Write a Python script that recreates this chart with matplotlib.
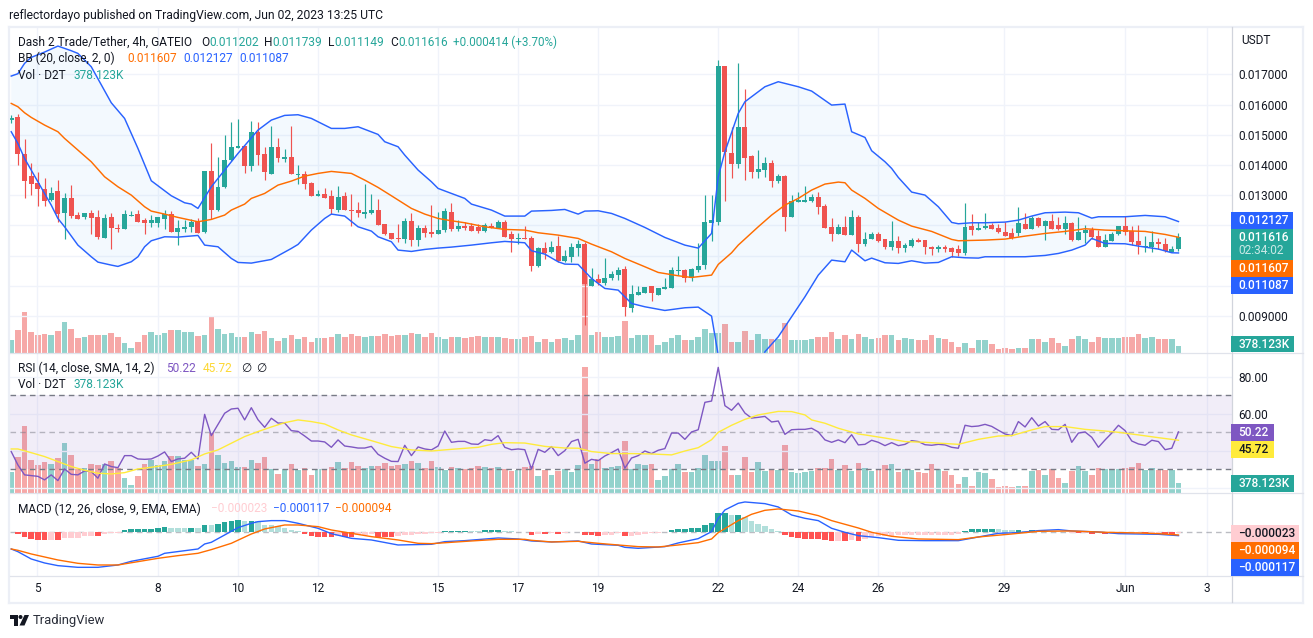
import numpy as np
import matplotlib
matplotlib.use("Agg")
import matplotlib.pyplot as plt
from matplotlib.patches import Rectangle, Polygon, Circle

W, H = 1313, 638

# candles, in millionths of a USDT
opens = [15487,15576,14361,13644,13401,13202,12838,13136,12407,12904,12330,12275,12407,12275,11579,12275,11910,11877,12319,12374,
         12175,12076,12076,12208,12374,11778,11888,11943,12142,11778,13798,12507,13268,14163,14560,14626,13964,15090,14361,13699,
         14593,14196,14262,13677,13699,13401,12970,13036,12970,12507,12970,12507,12507,12374,12407,12507,12043,11745,11579,11546,
         12142,11513,11910,11778,11711,11844,12440,11877,11976,11976,11943,11811,11976,11910,12109,11711,11546,11579,11579,10652,
         11248,11116,11314,10817,10950,11248,11380,9989,10221,10089,10254,10354,10553,9261,9691,9757,9989,9691,9890,9923,
         10486,10520,10254,10520,10685,12076,12109,17276,14395,14030,15256,14295,13765,13832,14063,13467,13633,12275,12771,12771,
         12805,12937,12639,11943,11711,11943,11678,12275,11380,11546,11711,11546,11281,11480,11248,11314,11513,11513,11281,11215,
         11281,11248,11215,11082,11976,11844,11910,12010,11910,11778,11745,11745,12043,11877,12241,11976,12142,12010,11877,12076,
         11513,11745,11844,11645,11281,11480,11711,11976,11811,11480,11281,11281,11447,11380,11116,11202]
highs = [15653,15675,14847,14052,13776,13555,13279,13500,13059,13334,12451,12407,12507,12495,12374,12407,12043,12507,12473,12507,
         12230,12341,12275,12507,12473,12175,12175,12208,12230,13798,14715,14262,14990,15421,15520,14626,15454,15421,14604,15289,
         14891,14527,15289,13997,13798,13434,13169,13235,13169,13301,13103,13036,12771,13367,13036,12871,12043,11745,12043,12241,
         12407,12010,12010,12672,12440,12562,12738,12175,12120,12065,12043,12076,12076,12175,12175,11811,11745,11976,11645,11281,
         11447,11480,11645,11182,11413,11513,11447,10586,10387,10917,10486,10619,10652,10023,9989,9956,9989,9923,10254,10619,
         10983,10553,10586,11413,13003,13003,17475,17276,15256,17375,16514,14328,14494,14262,14163,13699,13666,13003,13103,13301,
         13036,13103,12705,12241,12043,12308,12507,12341,11778,11778,11778,11546,12142,11645,11413,11579,11579,11513,11314,11347,
         11347,11281,11347,12738,12374,12109,12407,12076,12043,12109,11910,12606,12407,12308,12275,12175,12374,12275,12308,12109,
         12275,12010,11943,11844,11711,11778,11976,12308,11976,12010,11645,11811,11579,11579,11314,11739]
lows = [15377,13997,12915,13003,12650,12650,12805,12120,11546,12230,12208,12208,11711,11546,11579,11215,11778,11877,12308,12109,
        11711,11943,11954,11877,11778,11347,11778,11778,11745,11745,12208,12473,13235,14130,14560,13732,13798,13997,13500,13699,
        14096,14096,13699,13367,13202,12970,12970,12904,12374,12440,12507,11976,12275,12241,12374,12010,11678,11546,11447,11413,
        11314,11314,11612,11612,11711,11789,11811,11811,11844,11811,11745,11778,11910,11910,11612,11116,11380,11546,10486,10619,
        10884,11082,10784,10784,10784,10983,8698,9989,10023,10023,10188,10188,8996,9128,9691,9757,9493,9691,9890,9923,
        10354,10122,10155,10453,10553,11480,12010,12805,13566,13898,13500,13566,13566,13600,13268,13401,11811,12275,12771,12771,
        12771,12374,11910,11480,11711,11678,11678,11116,11314,11546,11447,11215,11182,11082,11116,11281,11447,11049,11016,11116,
        11116,10950,10983,11016,11678,11844,11877,11877,11745,11645,11546,11645,11877,11877,11943,11513,11877,11844,11711,11480,
        11513,11413,11546,11281,11281,11480,11678,11678,11347,11049,11116,11116,11215,11116,11116,11149]
closes = [15553,14361,13467,13367,13202,12805,13070,12385,12904,12308,12208,12407,12241,11612,12241,11910,11877,12374,12341,12109,
          12076,12175,12275,12374,11778,11910,11943,12109,11745,13798,12507,13268,14163,14593,14626,13964,15090,14328,13765,14593,
          14229,14262,13699,13699,13367,12970,13036,12904,12540,12937,12507,12473,12407,12440,12507,12010,11711,11546,11546,12142,
          11513,11910,11745,11711,11844,12473,11877,11976,11910,11811,11811,12010,11910,12109,11612,11546,11579,11546,10652,11248,
          11082,11281,10817,10983,11281,11380,10056,10221,10089,10254,10387,10520,9294,9725,9790,9956,9757,9923,9956,10520,
          10520,10254,10553,10652,12109,12175,17276,14428,14030,15256,14229,13765,13865,14063,13467,13633,12275,12805,12838,12838,
          12937,12606,11910,11711,11943,11678,12275,11380,11546,11711,11480,11281,11480,11248,11347,11513,11447,11281,11215,11281,
          11215,11116,11082,11943,11844,11910,11976,11877,11778,11645,11579,12076,11877,12241,11976,12142,11877,11877,12076,11513,
          11778,11844,11612,11281,11513,11711,11976,11778,11447,11347,11314,11447,11380,11149,11215,11616]

# volume, thousands
volumes = [806,1373,2533,1247,1058,1172,1096,1323,1890,1436,907,945,1096,1058,1096,1210,945,567,302,643,
           1096,1247,1058,1210,1399,1399,1247,1247,1021,1096,2268,1436,1134,1210,983,983,1247,1134,1361,907,
           718,907,1096,869,945,680,907,907,983,1172,945,1172,1021,945,1021,1021,1134,1021,1058,1096,
           1210,1134,945,1210,983,869,983,945,895,945,1021,983,945,983,907,832,869,983,1021,643,
           869,680,832,907,794,1058,4763,1096,1285,945,983,1021,1966,907,1096,1058,1096,491,643,907,
           1096,794,794,945,1436,1210,1210,1777,680,680,1361,794,1172,832,869,869,1814,794,756,794,
           832,945,945,1285,869,1058,832,1134,945,832,907,1058,1096,794,907,869,794,756,1096,907,
           832,680,340,605,265,794,756,529,227,265,227,265,265,832,869,680,907,567,378,832,
           1021,832,680,945,907,907,907,945,983,1134,882,945,869,869,869,378]

# Bollinger bands, bar number and price in millionths
bb_upper_bar = [0,1,2,3,5,7,9,10,12,15,17,19,21,24,26,27,28,30,34,37,39,41,43,45,48,50,52,55,56,58,59,61,63,64,66,68,69,72,74,77,78,81,83,85,86,88,90,92,95,98,101,103,105,106,107,109,110,111,113,115,118,120,123,125,126,128,129,131,132,133,135,137,139,141,142,144,146,149,151,153,155,158,160,162,163,167,170,173,175]
bb_upper = [16944,17022,17364,17563,17739,17938,17784,17695,17254,16061,15542,14549,13478,12981,12749,12705,12562,13279,14383,15156,15487,15642,15664,15542,15211,15211,15266,15012,14770,14604,14328,13832,13445,13224,13058,12893,12705,12507,12308,12308,12473,12495,12528,12374,12473,12484,12396,12230,11932,11601,11347,11248,11734,13610,14438,15708,16094,16260,16591,16757,16591,16448,15984,16017,15101,14913,14472,14107,13886,13588,13103,13003,12617,12098,12054,12087,12087,12109,12175,12308,12418,12440,12418,12241,12286,12286,12330,12286,12127]
bb_basis_bar = [0,1,2,3,5,7,8,10,12,14,16,18,20,21,23,25,28,30,32,33,35,36,38,40,42,44,46,48,50,51,53,55,57,60,62,64,66,68,71,74,77,79,82,85,87,90,92,95,97,100,102,105,106,108,109,112,114,116,118,120,122,124,125,126,128,130,133,135,138,141,142,146,149,152,155,158,161,164,167,170,173,175]
bb_basis = [16039,15929,15730,15576,15322,15101,14880,14494,14107,13610,13279,13003,12617,12473,12374,12264,12120,12197,12341,12507,12705,12893,13058,13334,13467,13632,13721,13787,13743,13721,13500,13257,12981,12562,12374,12230,12153,12087,11954,11866,11844,11756,11678,11568,11380,11126,10906,10630,10442,10332,10276,10354,10707,11093,11347,11954,12341,12672,12893,13169,13368,13434,13412,13169,12893,12562,12175,11976,11800,11535,11491,11513,11546,11645,11733,11800,11888,11844,11822,11800,11700,11607]
bb_lower_bar = [0,1,2,3,5,6,7,8,10,12,13,15,16,18,19,20,21,23,25,28,29,31,33,34,36,39,42,43,45,47,48,50,52,54,55,57,58,60,62,64,66,69,72,74,77,78,80,82,83,85,87,89,91,92,93,95,98,101,103,105,106,108,110,112,113,115,117,119,121,123,125,126,128,129,131,133,135,137,139,141,143,145,146,152,155,157,159,161,162,164,167,169,172,174,175]
bb_lower = [15101,14714,14218,13831,13058,12672,12230,11954,11347,10961,10784,10685,10641,10795,10961,11292,11491,11623,11612,11667,11347,11292,10906,10773,10751,10872,11237,11369,11844,12230,12374,12308,11954,11811,11623,11458,11182,11137,11204,11248,11281,11347,11424,11469,11424,11160,11049,10795,10718,10707,10243,9912,9857,9636,9415,9305,9183,9272,9294,8996,7700,6600,6300,7100,7815,8311,8974,9636,10354,10850,10795,11182,10828,10917,10762,10740,10828,10751,10773,10961,10928,10917,10961,10961,11005,11071,11182,11347,11568,11402,11391,11314,11215,11093,11087]

rsi = [39.6,32.4,27.0,26.6,26.2,24.3,27.0,23.9,30.2,27.3,27.0,29.1,28.8,25.2,32.9,31.5,30.9,37.4,37.4,35.6,
       35.4,35.6,37.2,39.4,34.2,35.6,36.0,39.2,35.6,59.7,48.2,54.3,60.3,62.6,63.0,56.7,63.3,56.8,52.7,57.6,
       55.0,55.0,50.9,50.5,48.0,45.3,45.3,44.8,41.9,45.9,42.6,42.1,41.5,41.5,42.4,38.1,36.0,34.3,34.2,43.0,
       37.4,42.1,41.0,40.5,42.6,50.7,44.6,45.1,45.1,43.7,43.5,46.0,45.5,48.2,41.9,40.6,41.0,40.6,30.2,40.8,
       39.2,42.3,37.4,40.1,45.0,46.2,33.3,35.4,34.7,37.2,39.0,41.0,30.6,36.1,37.4,39.9,38.5,40.3,41.2,49.6,
       49.6,46.2,50.2,51.4,66.2,66.9,85.1,64.4,61.9,65.8,60.4,57.7,58.1,58.6,55.6,56.1,48.9,51.4,51.6,51.6,
       52.2,50.2,45.9,44.6,45.9,44.4,48.7,43.2,43.5,45.7,44.6,42.8,44.4,42.8,43.5,45.5,45.0,43.3,43.0,43.5,
       43.2,41.9,41.4,53.8,53.1,53.4,54.3,53.2,51.1,49.1,48.2,55.8,52.9,57.9,53.4,55.8,51.6,51.4,54.3,44.6,
       49.6,50.2,47.3,41.9,45.9,49.6,53.8,50.9,45.3,43.7,43.0,45.7,45.0,40.6,41.4,50.22]
rsi_ma_bar = [0,1,3,5,7,9,11,13,15,17,19,21,24,27,29,31,33,35,37,39,41,43,45,47,49,51,54,57,60,63,66,70,72,74,77,80,83,85,87,90,93,96,99,101,103,105,106,108,110,112,115,117,119,120,122,124,127,128,131,134,137,142,145,148,150,153,155,158,161,164,166,169,172,175]
rsi_ma = [41.0,41.0,39.0,36.9,34.2,31.5,29.5,27.9,27.5,28.2,30.2,31.1,32.7,35.1,38.3,40.5,44.1,47.7,50.4,52.9,55.2,56.7,55.8,54.5,51.3,48.6,45.5,42.3,40.5,39.9,40.8,41.9,43.5,44.4,44.2,42.4,41.5,41.4,39.6,38.5,38.5,38.3,37.8,39.9,41.7,46.0,50.0,53.8,57.0,59.4,61.3,61.2,59.4,56.7,54.9,52.2,49.1,48.6,46.9,45.0,44.6,43.5,46.2,48.0,48.2,51.3,53.1,53.1,51.6,50.7,50.0,48.6,47.1,45.72]

# MACD, millionths
macd_bar = [0,1,3,5,7,10,13,16,18,22,23,28,29,30,32,34,36,37,39,41,43,46,48,51,54,58,63,65,68,73,76,78,81,85,87,91,92,94,98,100,103,105,106,107,109,110,113,115,117,119,121,123,125,127,130,133,137,142,145,148,151,154,157,159,163,166,169,172,175]
macd = [-585,-679,-936,-1076,-1170,-1229,-1229,-1147,-1018,-842,-737,-585,-410,-351,-94,164,316,374,410,410,316,140,-47,-211,-269,-445,-421,-328,-293,-199,-234,-304,-339,-304,-410,-456,-527,-562,-503,-374,-222,23,491,784,1018,1065,1006,889,608,491,410,140,0,-117,-187,-281,-293,-293,-164,-35,-12,59,94,47,12,-47,-59,-70,-117]
signal_bar = [0,1,3,7,10,13,16,19,22,25,28,30,33,36,38,41,43,46,48,51,54,58,61,63,66,69,73,77,78,81,85,88,91,94,97,100,103,105,106,109,111,113,115,118,121,123,127,129,132,136,142,145,150,154,159,164,169,172,175]
signal = [-585,-632,-760,-971,-1088,-1147,-1147,-1030,-913,-819,-737,-608,-386,-59,117,257,257,199,82,-35,-152,-269,-386,-398,-351,-304,-246,-246,-281,-339,-316,-386,-445,-503,-515,-445,-363,-234,-12,410,632,772,819,749,585,410,152,0,-140,-234,-257,-164,-59,35,47,0,-23,-47,-94]
hist = [0,-70,-152,-234,-257,-257,-257,-257,-211,-199,-187,-140,-117,-117,-47,-35,-12,70,105,117,
        129,129,152,176,152,152,152,152,152,257,257,293,351,386,421,398,386,386,257,257,
        234,152,70,35,-47,-117,-152,-164,-152,-140,-176,-176,-94,-94,-70,-176,-176,-176,-140,-105,
        -105,-70,-70,-35,-35,47,47,47,47,35,35,82,82,82,47,47,12,12,-82,-47,
        -47,-35,-47,-35,12,12,-82,-82,-117,-82,-82,-35,-117,-117,-82,-47,-35,-23,12,70,
        117,117,152,152,257,328,667,679,608,608,538,398,293,222,117,47,-82,-152,-199,-234,
        -234,-234,-257,-293,-293,-293,-257,-293,-234,-164,-129,-129,-129,-105,-82,-105,-82,-82,-82,-82,
        -82,-82,-59,47,105,129,129,129,117,82,70,82,59,70,35,35,23,12,12,-12,
        -23,-23,-47,-23,-59,-23,-12,-12,-12,-23,-35,-35,-23,-70,-70,-23]
# bars TradingView draws in the paler shade
hist_pale = [6,8,9,10,11,12,14,15,16,24,25,26,28,30,35,37,38,39,40,41,42,43,49,52,53,54,58,59,60,61,62,63,64,
             69,70,74,75,76,77,79,81,83,84,89,90,91,93,94,95,96,97,108,110,111,112,113,114,115,124,126,
             128,129,130,131,132,133,134,135,136,137,138,139,140,141,142,148,149,150,152,154,155,156,157,158,
             159,161,163,165,166,167,168,169,171,172,175]

day_ticks = [3.9,22,34,46,64,76,88,106,118,130,148.8,167,179.3]
day_labels = ["5","8","10","12","15","17","19","22","24","26","29","Jun","3"]
# the labels behind the price tags are left empty, their gridlines stay
price_ticks = [0.017,0.016,0.015,0.014,0.013,0.012,0.011,0.010,0.009]
price_labels = ["0.017000","0.016000","0.015000","0.014000","0.013000","","","","0.009000"]
rsi_ticks = [80,60,40,20]
rsi_labels = ["80.00","60.00","",""]

GREEN = "#26a69a"
RED = "#ef5350"
BLUE = "#2962ff"
ORANGE = "#ff6d00"
PURPLE = "#7e57c2"
YELLOW = "#ffeb3b"
INK = "#131722"
GRID = "#f0f3fa"
FONT = ["Roboto", "DejaVu Sans"]

plt.rcParams["font.family"] = FONT

bars = np.arange(len(closes))
o = np.array(opens) / 1e6
h = np.array(highs) / 1e6
l = np.array(lows) / 1e6
c = np.array(closes) / 1e6
up = c >= o
candle_colors = np.where(up, GREEN, RED)
XLIM = (-0.18, 182.95)


def pane(top, bottom):
    # axes from pixel rows, same left and right edge for every pane
    ax = fig.add_axes([10 / W, 1 - bottom / H, 1221.5 / W, (bottom - top) / H])
    ax.set_xlim(*XLIM)
    ax.set_xticks(day_ticks)
    ax.set_xticklabels([])
    ax.tick_params(length=0, labelcolor=INK, labelsize=8.6)
    ax.grid(True, color=GRID, lw=1)
    ax.set_axisbelow(True)
    for s in ax.spines.values():
        s.set_visible(False)
    ax.patch.set_visible(False)
    return ax


def volume_under(top, bottom, vmax):
    ax = fig.add_axes([10 / W, 1 - bottom / H, 1221.5 / W, (bottom - top) / H])
    ax.set_xlim(*XLIM)
    ax.set_ylim(0, vmax)
    ax.bar(bars, volumes, width=0.84, color=candle_colors, alpha=0.5, lw=0)
    ax.axis("off")
    return ax


fig = plt.figure(figsize=(W / 100, H / 100), dpi=100)

# price pane
volume_under(28, 352.5, 20162)
main = pane(28, 352.5)
main.set_ylim(0.007791, 0.018536)
main.yaxis.tick_right()
main.set_yticks(price_ticks)
main.set_yticklabels(price_labels)
main.tick_params(axis="y", pad=5.2)
main.fill(np.r_[bb_upper_bar, bb_lower_bar[::-1]],
          np.r_[bb_upper, bb_lower[::-1]] / 1e6, color="#2196f3", alpha=0.05, lw=0)
main.vlines(bars, l, h, color=candle_colors, lw=0.85, zorder=3)
main.bar(bars, np.abs(c - o), bottom=np.minimum(o, c), width=0.74,
         color=candle_colors, lw=0, zorder=3)
main.plot(bb_upper_bar, np.array(bb_upper) / 1e6, color=BLUE, lw=1.05, zorder=4)
main.plot(bb_lower_bar, np.array(bb_lower) / 1e6, color=BLUE, lw=1.05, zorder=4)
main.plot(bb_basis_bar, np.array(bb_basis) / 1e6, color=ORANGE, lw=1.05, zorder=4)

# RSI pane, volume shows behind it as well
volume_under(353.5, 493, 5272)
rsi_ax = pane(353.5, 493)
rsi_ax.set_ylim(17.2, 92.6)
rsi_ax.yaxis.tick_right()
rsi_ax.set_yticks(rsi_ticks)
rsi_ax.set_yticklabels(rsi_labels)
rsi_ax.tick_params(axis="y", pad=5.2)
rsi_ax.axhspan(30, 70, color=PURPLE, alpha=0.1, lw=0)
rsi_ax.axhline(70, color="#787b86", lw=1, dashes=(4, 3))
rsi_ax.axhline(50, color="#787b86", lw=1, dashes=(4, 3), alpha=0.5)
rsi_ax.axhline(30, color="#787b86", lw=1, dashes=(4, 3))
rsi_ax.plot(bars, rsi, color=PURPLE, lw=1, zorder=4)
rsi_ax.plot(rsi_ma_bar, rsi_ma, color=YELLOW, lw=1, zorder=4)

# MACD pane
macd_ax = pane(493.5, 575.5)
macd_ax.set_ylim(-1516, 1362)
macd_ax.set_yticks([])
macd_ax.axhline(0, color="#787b86", lw=1, dashes=(4, 3), alpha=0.5)
hist_colors = []
for i, v in enumerate(hist):
    if v >= 0:
        hist_colors.append("#b2dfdb" if i in hist_pale else GREEN)
    else:
        hist_colors.append("#ffcdd2" if i in hist_pale else "#ff5252")
macd_ax.bar(bars, hist, width=0.84, color=hist_colors, lw=0, zorder=2)
macd_ax.plot(macd_bar, macd, color=BLUE, lw=1, zorder=4)
macd_ax.plot(signal_bar, signal, color=ORANGE, lw=1, zorder=4)
macd_ax.set_xticklabels(day_labels)
macd_ax.tick_params(axis="x", pad=5)

# everything else in pixel coordinates on a clear sheet
ov = fig.add_axes([0, 0, 1, 1])
ov.set_xlim(0, W)
ov.set_ylim(H, 0)
ov.axis("off")
ov.patch.set_visible(False)


def put(x, y, s, color=INK, size=8.6, **kw):
    ov.text(x, y, s, color=color, fontsize=size, va="center", ha=kw.pop("ha", "left"), **kw)


def tag(x1, y1, y2, s, face, color="white", line2=None):
    ov.add_patch(Rectangle((1231, y1), x1 - 1231, y2 - y1, color=face, lw=0, zorder=5))
    if line2 is None:
        put(1238.5, (y1 + y2) / 2, s, color=color, zorder=6, fontweight="medium")
    else:
        put(1238.5, y1 + 8.5, s, color=color, zorder=6, fontweight="medium")
        put(1238.5, y1 + 22, line2, color=color, zorder=6, alpha=0.75)


# frame and dividers
for x0, y0, x1, y1 in [(9, 26.5, 1303, 26.5), (9, 602.5, 1303, 602.5), (9, 26.5, 9, 602.5), (1303, 26.5, 1303, 602.5)]:
    ov.plot([x0, x1], [y0, y1], color="#eceff6", lw=1.6, zorder=1)
for y in (352.8, 493.2, 575.5):
    ov.plot([10, 1303], [y, y], color="#e0e3eb", lw=0.9, zorder=1)
ov.plot([1231.5, 1231.5], [27, 602], color="#d1d4dc", lw=0.9, zorder=1)

put(9, 15, "reflectordayo published on TradingView.com, Jun 02, 2023 13:25 UTC", size=8.77)

put(18, 42, "Dash 2 Trade/Tether, 4h, GATEIO")
for x, letter, val in [(201, "O", "0.011202"), (264, "H", "0.011739"), (328, "L", "0.011149"), (390, "C", "0.011616")]:
    put(x, 42, letter)
    put(x + (8.3 if letter != "L" else 6.3), 42, val, color=GREEN)
put(452.7, 42, "+0.000414 (+3.70%)", color=GREEN, size=8.4)

put(18, 58.7, "BB (20, close, 2, 0)")
put(127.7, 58.7, "0.011607", color=ORANGE)
put(183, 58.7, "0.012127", color=BLUE)
put(239, 58.7, "0.011087", color=BLUE)
put(18, 75.7, "Vol · D2T")
put(73.7, 75.7, "378.123K", color=GREEN)

put(18, 368, "RSI (14, close, SMA, 14, 2)")
put(166, 368, "50.22", color=PURPLE)
put(203, 368, "45.72", color="#fdd835")
put(240.7, 368, "∅")
put(255.7, 368, "∅")
put(18, 385, "Vol · D2T")
put(73.7, 385, "378.123K", color=GREEN)

put(18, 509, "MACD (12, 26, close, 9, EMA, EMA)")
put(211, 509, "−0.000023", color="#ffcdd2")
put(273, 509, "−0.000117", color=BLUE)
put(335, 509, "−0.000094", color=ORANGE)

put(1241, 40.7, "USDT")

tag(1293, 212, 229, "0.012127", BLUE)
tag(1293, 229, 259.8, "0.011616", GREEN, line2="02:34:02")
tag(1293, 259.8, 277, "0.011607", ORANGE)
tag(1293, 277, 294, "0.011087", BLUE)
tag(1294, 335.7, 352.3, "378.123K", GREEN)
tag(1274, 424, 441, "50.22", PURPLE)
tag(1274, 441, 458, "45.72", YELLOW, color=INK)
tag(1294, 475, 491.7, "378.123K", GREEN)
tag(1299, 525, 542, "−0.000023", "#ffcdd2", color=INK)
tag(1299, 542, 559, "−0.000094", ORANGE)
tag(1299, 559, 576, "−0.000117", BLUE)

# TradingView mark, bottom left
ov.add_patch(Polygon([(10, 615), (18, 615), (18, 625.5), (14, 625.5), (14, 619), (10, 619)], color=INK, lw=0))
ov.add_patch(Circle((20.5, 617), 2, color=INK, lw=0))
ov.add_patch(Polygon([(24.5, 615), (29, 615), (24.5, 625.5), (19.5, 625.5)], color=INK, lw=0))
put(33, 620.5, "TradingView", color="#2a2e39", size=9.4)

fig.savefig("out.png", dpi=100)
